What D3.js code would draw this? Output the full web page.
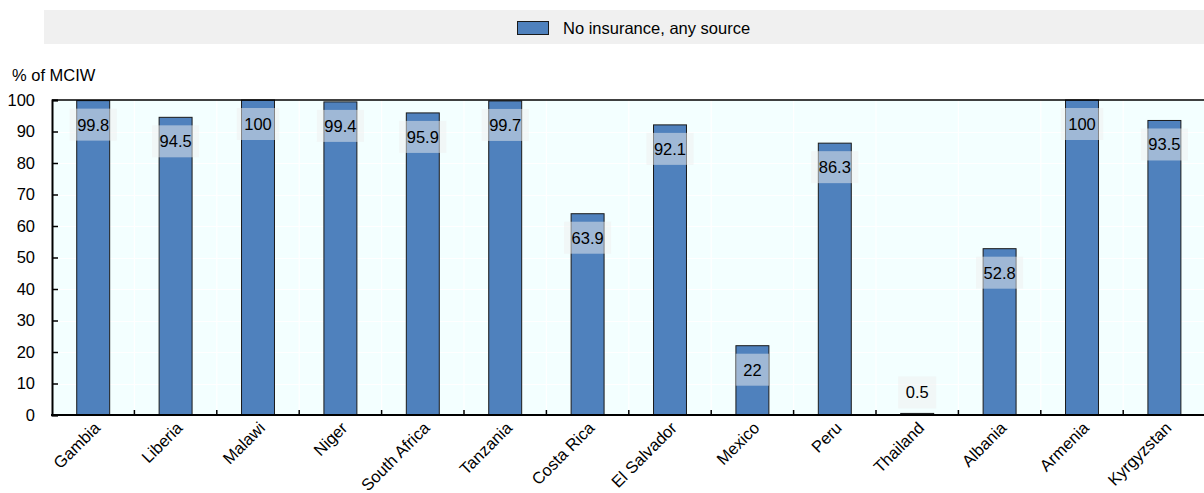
<!DOCTYPE html>
<html>
<head>
<meta charset="utf-8">
<script src="https://cdn.jsdelivr.net/npm/d3@7"></script>
<style>
  html, body { margin: 0; padding: 0; background: #ffffff; }
  svg { display: block; font-family: "Liberation Sans", Arial, sans-serif; }
</style>
</head>
<body>
<svg id="chart" width="1204" height="493"></svg>
<script>
// Share of MCIW with no insurance from any source, by country
const countries = ["Gambia", "Liberia", "Malawi", "Niger", "South Africa", "Tanzania",
  "Costa Rica", "El Salvador", "Mexico", "Peru", "Thailand", "Albania", "Armenia", "Kyrgyzstan"];
const noInsurance = [99.8, 94.5, 100, 99.4, 95.9, 99.7, 63.9, 92.1, 22, 86.3, 0.5, 52.8, 100, 93.5];
const yTicks = [0, 10, 20, 30, 40, 50, 60, 70, 80, 90, 100];
const seriesName = "No insurance, any source";
const yTitle = "% of MCIW";

const data = countries.map((c, i) => ({ country: c, value: noInsurance[i] }));
const fs = 16.5;

const svg = d3.select("#chart");
const plot = { left: 52, top: 100, bottom: 415, step: 82.4 };
plot.right = plot.left + plot.step * countries.length;

const x = d3.scaleBand().domain(countries).range([plot.left, plot.right]).padding(0);
const y = d3.scaleLinear().domain([0, 100]).range([plot.bottom, plot.top]);
const barW = x.bandwidth() * 0.4;

// Legend strip
svg.append("rect").attr("x", 44).attr("y", 10).attr("width", 1160).attr("height", 34).attr("fill", "#f0f0f0");
svg.append("rect").attr("x", 517.5).attr("y", 21.5).attr("width", 31).attr("height", 13)
  .attr("fill", "#4f81bd").attr("stroke", "#1a1a1a").attr("stroke-width", 1);
svg.append("text").attr("x", 563).attr("y", 34).attr("font-size", fs).attr("fill", "#000").text(seriesName);

// Axis title
svg.append("text").attr("x", 12).attr("y", 81).attr("font-size", fs).attr("fill", "#000").text(yTitle);

// Plot background
svg.append("rect").attr("x", plot.left).attr("y", plot.top)
  .attr("width", plot.right - plot.left).attr("height", plot.bottom - plot.top).attr("fill", "#f3ffff");

// Grid lines
const grid = svg.append("g").attr("stroke", "#ffffff").attr("stroke-width", 1.2);
grid.selectAll("line.h").data(yTicks.filter(t => t > 0 && t < 100)).join("line")
  .attr("x1", plot.left).attr("x2", plot.right)
  .attr("y1", d => Math.round(y(d)) + 0.5).attr("y2", d => Math.round(y(d)) + 0.5);
grid.selectAll("line.v").data(countries.slice(1)).join("line")
  .attr("x1", d => x(d)).attr("x2", d => x(d))
  .attr("y1", plot.top).attr("y2", plot.bottom);

// Bars
svg.append("g").selectAll("rect").data(data).join("rect")
  .attr("x", d => x(d.country) + (x.bandwidth() - barW) / 2)
  .attr("y", d => y(d.value))
  .attr("width", barW)
  .attr("height", d => y(0) - y(d.value))
  .attr("fill", "#4f81bd")
  .attr("stroke", "#1a1a1a")
  .attr("stroke-width", 1);

// Frame: top border, left and bottom axes
svg.append("line").attr("x1", plot.left).attr("x2", plot.right).attr("y1", plot.top).attr("y2", plot.top)
  .attr("stroke", "#000").attr("stroke-width", 1.5);

const yAxis = d3.axisLeft(y).tickValues(yTicks).tickSize(-6).tickPadding(17);
const gy = svg.append("g").attr("transform", `translate(${plot.left},0)`).call(yAxis);
gy.select(".domain").attr("stroke", "#000").attr("stroke-width", 2);
gy.selectAll(".tick line").attr("stroke", "#000").attr("stroke-width", 1.5);
gy.selectAll(".tick text").attr("font-size", fs).attr("fill", "#000")
  .attr("font-family", "Liberation Sans, Arial, sans-serif");

svg.append("line").attr("x1", plot.left - 1).attr("x2", plot.right).attr("y1", plot.bottom).attr("y2", plot.bottom)
  .attr("stroke", "#000").attr("stroke-width", 2);
svg.append("g").selectAll("line").data(countries.slice(1)).join("line")
  .attr("x1", d => x(d)).attr("x2", d => x(d))
  .attr("y1", plot.bottom).attr("y2", plot.bottom - 5)
  .attr("stroke", "#000").attr("stroke-width", 1.5);

// Category labels
svg.append("g").selectAll("text").data(data).join("text")
  .attr("transform", d => `translate(${x(d.country) + x.bandwidth() / 2 + 8},${plot.bottom + 14}) rotate(-45)`)
  .attr("text-anchor", "end")
  .attr("font-size", fs)
  .attr("fill", "#000")
  .text(d => d.country);

// Value labels in translucent boxes
const labels = svg.append("g").selectAll("g").data(data).join("g")
  .attr("transform", d => {
    const cx = x(d.country) + x.bandwidth() / 2;
    const top = y(d.value);
    const cy = (y(0) - top) > 40 ? top + 24 : top - 21;
    return `translate(${cx},${cy})`;
  });
labels.append("text")
  .attr("text-anchor", "middle").attr("dy", "0.36em")
  .attr("font-size", fs).attr("fill", "#000")
  .text(d => d.value);
labels.each(function () {
  const g = d3.select(this);
  const w = g.select("text").node().getComputedTextLength() + 15;
  g.insert("rect", "text")
    .attr("x", -w / 2).attr("y", -16).attr("width", w).attr("height", 32)
    .attr("fill", "#f0f0f0").attr("fill-opacity", 0.5);
});
</script>
</body>
</html>
